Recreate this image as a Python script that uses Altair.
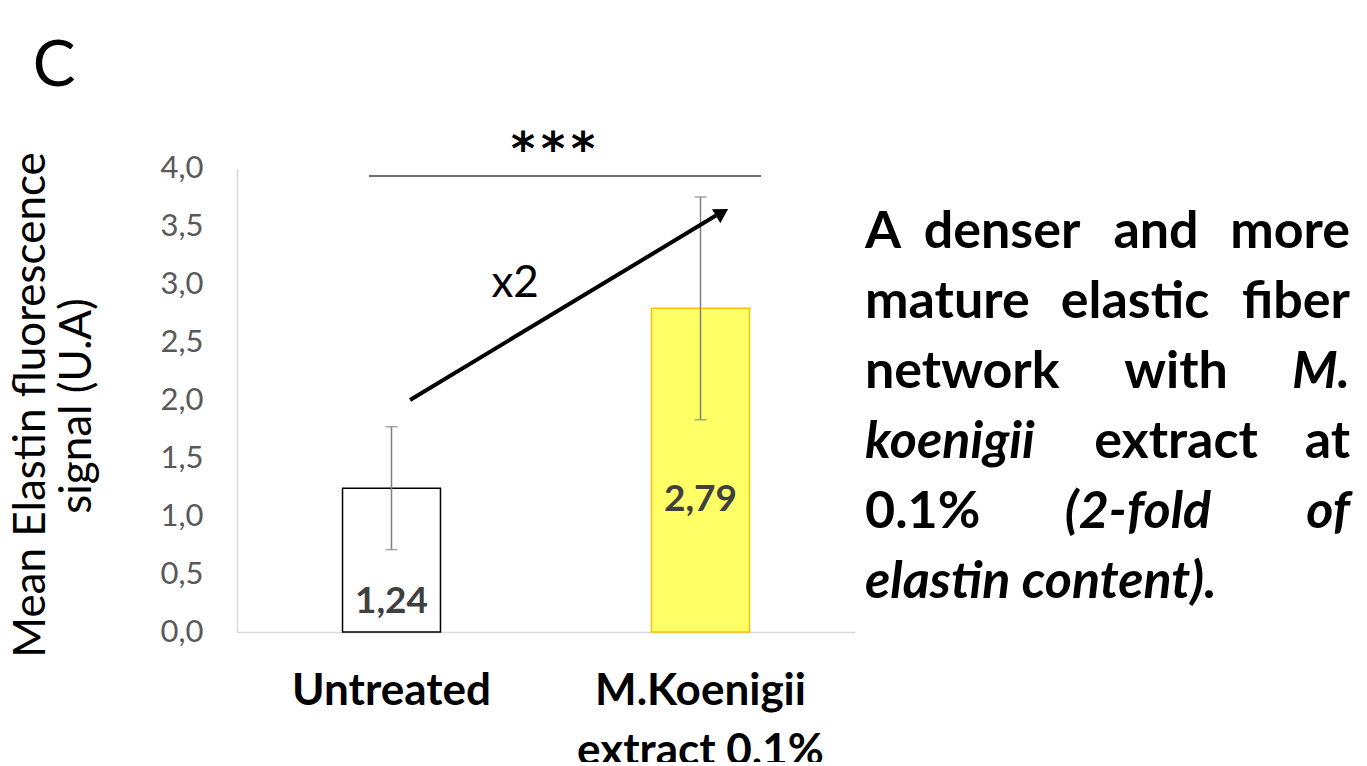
import altair as alt
import pandas as pd

# ---- data ----
categories = ["Untreated", "M.Koenigii extract 0.1%"]
means = [1.24, 2.79]
errors = [0.53, 0.96]
label_y = [0.26, 1.14]          # where the value labels sit (data units)
y_ticks = [0, 0.5, 1, 1.5, 2, 2.5, 3, 3.5, 4]

# annotation geometry (annotation layer units: x 0..2, y 0..4)
sig_x = [0.427, 1.696]
sig_y = 3.93
stars_x = [0.926, 1.023, 1.120]
stars_y = 4.025
arrow_start = [0.56, 2.0]
arrow_end = [1.55, 3.59]
arrow_head = [1.57, 3.615]
x2_xy = [0.90, 3.0]

# paragraph words: text, x px, y px (relative to plot origin), align, style
para_words = [
    ("A", 628, 80, "left", "normal"), ("denser", 765, 80, "center", "normal"),
    ("and", 919, 80, "center", "normal"), ("more", 1113, 80, "right", "normal"),
    ("mature", 628, 150, "left", "normal"), ("elastic", 898, 150, "center", "normal"),
    ("fiber", 1113, 150, "right", "normal"),
    ("network", 628, 220, "left", "normal"), ("with", 939, 220, "center", "normal"),
    ("M.", 1113, 220, "right", "italic"),
    ("koenigii", 628, 290, "left", "italic"), ("extract", 939, 290, "center", "normal"),
    ("at", 1113, 290, "right", "normal"),
    ("0.1%", 628, 360, "left", "normal"), ("(2-fold", 901, 360, "center", "italic"),
    ("of", 1113, 360, "right", "italic"),
    ("elastin content).", 628, 430, "left", "italic"),
]

FONT = "Lato"

df = pd.DataFrame({
    "cat": categories,
    "mean": means,
    "lo": [m - e for m, e in zip(means, errors)],
    "hi": [m + e for m, e in zip(means, errors)],
    "label": [f"{m:.2f}".replace(".", ",") for m in means],
    "ly": label_y,
})

xband = alt.X(
    "cat:N",
    sort=categories,
    scale=alt.Scale(paddingInner=0.683, paddingOuter=0.3415),
    axis=alt.Axis(
        title=None, labelAngle=0, labelFont=FONT, labelFontSize=44,
        labelFontWeight="bold", labelColor="black", labelPadding=37,
        labelLineHeight=60, ticks=False, domainColor="#d9d9d9",
        domainWidth=1.5, labelLimit=400,
        labelExpr="datum.label == 'M.Koenigii extract 0.1%' ? ['M.Koenigii', 'extract 0.1%'] : datum.label",
    ),
)
yscale = alt.Scale(domain=[0, 4], nice=False, zero=True)

base = alt.Chart(df)

bars = base.mark_bar(strokeWidth=1.5).encode(
    x=xband,
    y=alt.Y(
        "mean:Q", scale=yscale,
        axis=alt.Axis(
            title=None, values=y_ticks, grid=False, ticks=False,
            labelFont=FONT, labelFontSize=31, labelColor="#595959",
            labelPadding=34, domainColor="#d9d9d9", domainWidth=1.5,
            labelExpr="replace(format(datum.value, '.1f'), '.', ',')",
        ),
    ),
    fill=alt.Fill("cat:N", scale=alt.Scale(domain=categories, range=["#ffffff", "#ffff66"]), legend=None),
    stroke=alt.Stroke("cat:N", scale=alt.Scale(domain=categories, range=["#000000", "#ffc000"]), legend=None),
)

err = base.mark_rule(color="#7f7f7f", strokeWidth=1.5).encode(
    x=alt.X("cat:N", sort=categories), y=alt.Y("lo:Q", scale=yscale), y2="hi:Q"
)
cap_lo = base.mark_tick(color="#7f7f7f", size=12, thickness=1.5, orient="horizontal").encode(
    x=alt.X("cat:N", sort=categories), y=alt.Y("lo:Q", scale=yscale)
)
cap_hi = base.mark_tick(color="#7f7f7f", size=12, thickness=1.5, orient="horizontal").encode(
    x=alt.X("cat:N", sort=categories), y=alt.Y("hi:Q", scale=yscale)
)
vals = base.mark_text(font=FONT, fontSize=37, fontWeight="bold", color="#404040", baseline="middle").encode(
    x=alt.X("cat:N", sort=categories), y=alt.Y("ly:Q", scale=yscale), text="label:N"
)

main = alt.layer(bars, err, cap_lo, cap_hi, vals)

# annotation layer (own quantitative x scale)
ax = alt.Scale(domain=[0, 2], nice=False, zero=False)
ay = alt.Scale(domain=[0, 4], nice=False)

sig_df = pd.DataFrame({"x": [sig_x[0]], "x2": [sig_x[1]], "y": [sig_y]})
sig = alt.Chart(sig_df).mark_rule(color="#404040", strokeWidth=1.5).encode(
    x=alt.X("x:Q", scale=ax, axis=None), x2="x2:Q", y=alt.Y("y:Q", scale=ay, axis=None)
)
stars = alt.Chart(pd.DataFrame({"x": stars_x, "y": [stars_y] * 3, "t": ["*"] * 3})).mark_text(
    font="DejaVu Sans", fontSize=46, fontWeight="bold", color="black", baseline="alphabetic"
).encode(x=alt.X("x:Q", scale=ax, axis=None), y=alt.Y("y:Q", scale=ay, axis=None), text="t:N")

arrow_df = pd.DataFrame({"x": [arrow_start[0], arrow_end[0]], "y": [arrow_start[1], arrow_end[1]]})
arrow = alt.Chart(arrow_df).mark_line(color="black", strokeWidth=4).encode(
    x=alt.X("x:Q", scale=ax, axis=None), y=alt.Y("y:Q", scale=ay, axis=None)
)
head = alt.Chart(pd.DataFrame({"x": [arrow_head[0]], "y": [arrow_head[1]]})).mark_point(
    shape="triangle-up", filled=True, color="black", size=260, angle=59, opacity=1
).encode(x=alt.X("x:Q", scale=ax, axis=None), y=alt.Y("y:Q", scale=ay, axis=None))

x2t = alt.Chart(pd.DataFrame({"x": [x2_xy[0]], "y": [x2_xy[1]], "t": ["x2"]})).mark_text(
    font=FONT, fontSize=44, color="black", baseline="middle"
).encode(x=alt.X("x:Q", scale=ax, axis=None), y=alt.Y("y:Q", scale=ay, axis=None), text="t:N")

annot = alt.layer(sig, stars, arrow, head, x2t)

# pixel-positioned text layer
words_df = pd.DataFrame(para_words, columns=["t", "px", "py", "align", "style"])
word_layers = []
for al in ["left", "center", "right"]:
    for st in ["normal", "italic"]:
        sub = words_df[(words_df["align"] == al) & (words_df["style"] == st)]
        if len(sub) == 0:
            continue
        word_layers.append(
            alt.Chart(sub).mark_text(
                font=FONT, fontSize=52, fontWeight="bold", fontStyle=st,
                align=al, baseline="alphabetic", color="black"
            ).encode(
                x=alt.X("px:Q", scale=None, axis=None),
                y=alt.Y("py:Q", scale=None, axis=None),
                text="t:N",
            )
        )

ytitle_df = pd.DataFrame({
    "t": ["Mean Elastin fluorescence", "signal (U.A)"],
    "px": [-205, -159],
    "py": [237, 238],
})
ytitle = alt.Chart(ytitle_df).mark_text(
    font=FONT, fontSize=44, angle=270, align="center", baseline="middle", color="black"
).encode(
    x=alt.X("px:Q", scale=None, axis=None),
    y=alt.Y("py:Q", scale=None, axis=None),
    text="t:N",
)
panel = alt.Chart(pd.DataFrame({"t": ["C"], "px": [-183], "py": [-101]})).mark_text(
    font=FONT, fontSize=64, align="center", baseline="middle", color="black"
).encode(
    x=alt.X("px:Q", scale=None, axis=None),
    y=alt.Y("py:Q", scale=None, axis=None),
    text="t:N",
)

pixel = alt.layer(*word_layers, ytitle, panel)

chart = alt.layer(main, annot, pixel).resolve_scale(
    x="independent", y="independent", fill="independent", stroke="independent"
).properties(
    width=618, height=464,
    padding={"left": 229, "top": 160, "right": 500, "bottom": 130},
    autosize=alt.AutoSizeParams(type="none"),
).configure_view(stroke=None)

chart.save("out.html", embed_options={"renderer": "svg", "actions": False})
